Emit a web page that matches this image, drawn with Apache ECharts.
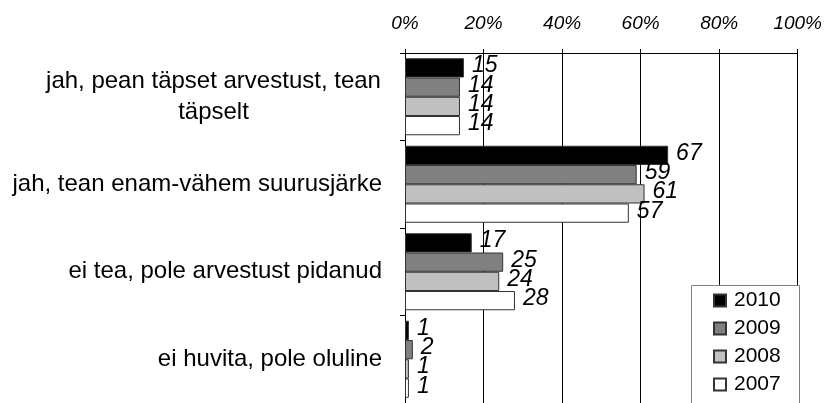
<!DOCTYPE html>
<html>
<head>
<meta charset="utf-8">
<script src="https://cdn.jsdelivr.net/npm/echarts@6/dist/echarts.min.js"></script>
<style>
  html, body { margin: 0; padding: 0; background: #fff; }
  #chart { width: 825px; height: 403px; }
</style>
</head>
<body>
<div id="chart"></div>
<script>
// Answer categories, top to bottom
const categories = [
  'jah, pean täpset arvestust, tean\ntäpselt',
  'jah, tean enam-vähem suurusjärke',
  'ei tea, pole arvestust pidanud',
  'ei huvita, pole oluline'
];

// Share of respondents per survey year (%)
const years = ['2010', '2009', '2008', '2007'];
const values2010 = [15, 67, 17, 1];
const values2009 = [14, 59, 25, 2];
const values2008 = [14, 61, 24, 1];
const values2007 = [14, 57, 28, 1];

const xTicks = [0, 20, 40, 60, 80, 100];

const seriesValues = [values2010, values2009, values2008, values2007];
const fills = ['#000000', '#808080', '#c0c0c0', '#ffffff'];

const FONT = '"Liberation Sans", Arial, sans-serif';

const chart = echarts.init(document.getElementById('chart'), null, { renderer: 'canvas' });

chart.setOption({
  animation: false,
  backgroundColor: '#ffffff',
  grid: { left: 405, top: 53, width: 395, height: 354, containLabel: false },
  xAxis: {
    type: 'value',
    position: 'top',
    min: xTicks[0],
    max: xTicks[xTicks.length - 1],
    interval: 20,
    axisLine: { show: true, lineStyle: { color: '#000', width: 1 } },
    axisTick: { show: true, inside: false, length: 4, lineStyle: { color: '#000' } },
    axisLabel: {
      formatter: '{value}%',
      fontFamily: FONT, fontSize: 19, fontStyle: 'italic', color: '#000', margin: 20
    },
    splitLine: { show: true, lineStyle: { color: '#000', width: 1 } }
  },
  yAxis: {
    type: 'category',
    inverse: true,
    data: categories,
    axisLine: { show: true, lineStyle: { color: '#000', width: 1 } },
    axisTick: { show: true, inside: false, length: 5, lineStyle: { color: '#000' } },
    axisLabel: {
      fontFamily: FONT, fontSize: 24, color: '#000', margin: 23, lineHeight: 31,
      formatter: function (v) {
        return v.indexOf('\n') >= 0 ? '{c|' + v + '}' : v;
      },
      rich: {
        c: { fontFamily: FONT, fontSize: 24, color: '#000', lineHeight: 31, width: 337, align: 'center' }
      }
    },
    splitLine: { show: false }
  },
  legend: {
    data: years,
    orient: 'vertical',
    left: 713,
    top: 290,
    height: 160,
    padding: 0,
    itemWidth: 12,
    itemHeight: 12,
    itemGap: 7,
    icon: 'rect',
    z: 60,
    textStyle: { fontFamily: FONT, fontSize: 21, color: '#000', lineHeight: 21, padding: [0, 0, 0, 3] }
  },
  graphic: [{
    type: 'rect',
    z: 50,
    shape: { x: 691.5, y: 285.5, width: 108, height: 130 },
    style: { fill: '#ffffff', stroke: '#808080', lineWidth: 1 }
  }],
  series: years.map(function (y, i) {
    return {
      name: y,
      type: 'bar',
      data: seriesValues[i],
      barGap: '0%',
      barCategoryGap: '12%',
      itemStyle: { color: fills[i], borderColor: '#333', borderWidth: 1 },
      label: {
        show: true,
        position: 'right',
        distance: 8,
        offset: [0, -2],
        fontFamily: FONT, fontSize: 23, fontStyle: 'italic', color: '#000'
      }
    };
  })
});
</script>
</body>
</html>
